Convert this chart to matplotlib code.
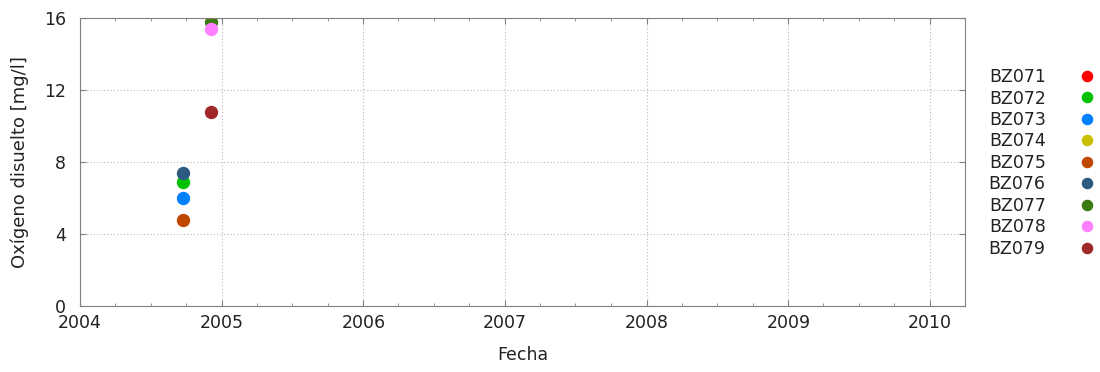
import matplotlib
matplotlib.use("Agg")
import matplotlib.pyplot as plt
import matplotlib.dates as mdates
import datetime as dt

stations = ["BZ071", "BZ072", "BZ073", "BZ074", "BZ075", "BZ076", "BZ077", "BZ078", "BZ079"]
colors = ["#ff0000", "#00c000", "#0080ff", "#c8c000", "#c04800", "#2c5a80", "#3a7a10", "#ff80ff", "#a02828"]
dates = {
    "BZ071": [],
    "BZ072": [dt.date(2004, 9, 22)],
    "BZ073": [dt.date(2004, 9, 22)],
    "BZ074": [],
    "BZ075": [dt.date(2004, 9, 22)],
    "BZ076": [dt.date(2004, 9, 22)],
    "BZ077": [dt.date(2004, 12, 5)],
    "BZ078": [dt.date(2004, 12, 5)],
    "BZ079": [dt.date(2004, 12, 5)],
}
values = {
    "BZ071": [],
    "BZ072": [6.9],
    "BZ073": [6.0],
    "BZ074": [],
    "BZ075": [4.78],
    "BZ076": [7.4],
    "BZ077": [15.75],
    "BZ078": [15.4],
    "BZ079": [10.75],
}

fig = plt.figure(figsize=(11, 3.72), dpi=100)
ax = fig.add_axes([0.0727, 0.177, 0.8045, 0.775])

for st, c in zip(stations, colors):
    ax.plot(dates[st], values[st], linestyle="none", marker="o", markersize=8.6,
            color=c, label=st)

ax.set_xlim(dt.date(2004, 1, 1), dt.date(2010, 4, 1))
ax.set_ylim(0, 16)
ax.set_yticks([0, 4, 8, 12, 16])
ax.xaxis.set_major_locator(mdates.YearLocator())
ax.xaxis.set_major_formatter(mdates.DateFormatter("%Y"))
ax.xaxis.set_minor_locator(mdates.MonthLocator(bymonth=[4, 7, 10]))
ax.grid(True, which="major", linestyle=(0, (1, 2)), color="#b8b8b8", linewidth=0.8)
for s in ax.spines.values():
    s.set_color("#808080")
ax.tick_params(which="both", direction="in", color="#808080", labelsize=12.5, labelcolor="#222222")
ax.tick_params(which="major", length=4, top=True, right=True)
ax.tick_params(which="minor", length=2, top=True)
ax.tick_params(axis="x", which="major", pad=6)
ax.tick_params(axis="y", which="major", pad=10)
ax.set_xlabel("Fecha", fontsize=12.5, color="#222222", labelpad=10)
ax.set_ylabel("Oxígeno disuelto [mg/l]", fontsize=13, color="#222222", labelpad=11)

leg = ax.legend(loc="upper left", bbox_to_anchor=(1.019, 0.85), frameon=False,
                markerfirst=False, fontsize=12.5, labelspacing=0.2,
                handletextpad=1.9, handlelength=1.0, borderaxespad=0, markerscale=0.85)
for t in leg.get_texts():
    t.set_color("#222222")

fig.savefig("out.png", dpi=100)
